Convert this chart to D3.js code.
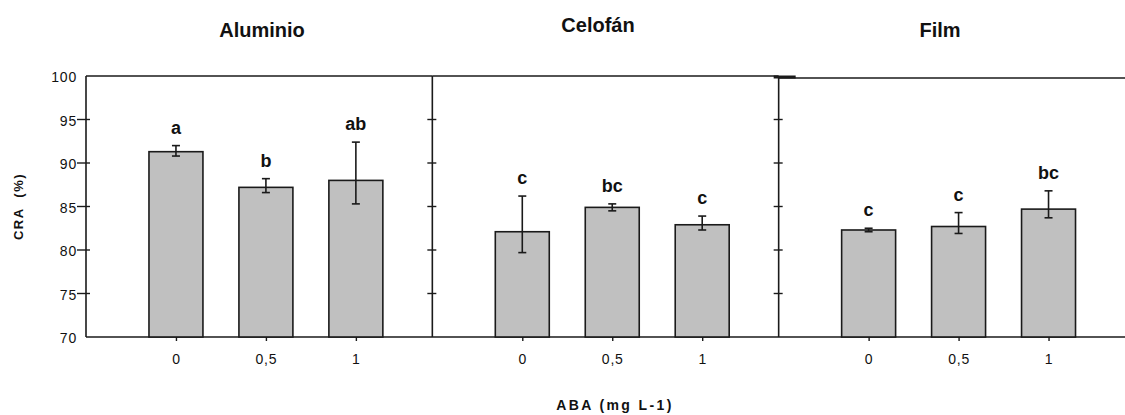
<!DOCTYPE html>
<html>
<head>
<meta charset="utf-8">
<script src="https://cdn.jsdelivr.net/npm/d3@7"></script>
<style>
  body { margin: 0; background: #fff; }
  text { font-family: "Liberation Sans", Arial, sans-serif; fill: #111; }
  .title { font-size: 20px; font-weight: bold; }
  .letter { font-size: 18px; font-weight: bold; }
  .axisText { font-size: 13px; font-weight: bold; }
</style>
</head>
<body>
<div id="chart"></div>
<script>
// Step 1: data
//= =================================
var materials = ["Aluminio", "Celofán", "Film"];
var doses = ["0", "0,5", "1"];
var yTicks = [70, 75, 80, 85, 90, 95, 100];

// mean CRA (%) per material, one value per dose
var meanAluminio = [91.3, 87.2, 88.0];
var meanCelofan = [82.1, 84.9, 82.9];
var meanFilm = [82.3, 82.7, 84.7];

// whisker ends (top / bottom) of the error bars
var highAluminio = [92.0, 88.2, 92.4];
var lowAluminio = [90.8, 86.6, 85.3];
var highCelofan = [86.2, 85.3, 83.9];
var lowCelofan = [79.7, 84.5, 82.3];
var highFilm = [82.5, 84.3, 86.8];
var lowFilm = [82.1, 81.9, 83.7];

// letters of the mean comparison test
var lettersAluminio = ["a", "b", "ab"];
var lettersCelofan = ["c", "bc", "c"];
var lettersFilm = ["c", "c", "bc"];

var means = [meanAluminio, meanCelofan, meanFilm];
var highs = [highAluminio, highCelofan, highFilm];
var lows = [lowAluminio, lowCelofan, lowFilm];
var letters = [lettersAluminio, lettersCelofan, lettersFilm];

// Step 2: set up the chart
//= =================================
var svgWidth = 1125;
var svgHeight = 415;

var margin = { top: 76, right: 0, bottom: 78, left: 86 };
var height = svgHeight - margin.top - margin.bottom;

var svg = d3.select("#chart")
  .append("svg")
  .attr("width", svgWidth)
  .attr("height", svgHeight);

// Step 3: scales
//= =================================
var yScale = d3.scaleLinear()
  .domain([70, 100])
  .range([margin.top + height, margin.top]);

var panelScale = d3.scaleBand()
  .domain(materials)
  .range([margin.left, svgWidth - margin.right]);

var pw = panelScale.bandwidth();

// dose positions inside one panel (0, 1, 2)
var xScale = d3.scaleLinear()
  .domain([-1, 2.85])
  .range([0, pw]);

var barW = xScale(0.6) - xScale(0);

var lineColor = "#1a1a1a";

// Step 4: frame and axes
//= =================================
var bottomY = yScale(70);
var topY = yScale(100);

// bottom line over the whole width
svg.append("line")
  .attr("x1", margin.left).attr("x2", svgWidth)
  .attr("y1", bottomY).attr("y2", bottomY)
  .attr("stroke", lineColor).attr("stroke-width", 1.6);

// left axis with ticks and labels
var leftAxis = d3.axisLeft(yScale)
  .tickValues(yTicks)
  .tickSize(0)
  .tickPadding(9);

var yAxisG = svg.append("g")
  .attr("transform", `translate(${margin.left}, 0)`)
  .call(leftAxis);
yAxisG.select(".domain").remove();
yAxisG.selectAll("text")
  .attr("dy", "0.4em")
  .style("font-family", "Liberation Sans, Arial, sans-serif")
  .style("font-size", "14px")
  .style("letter-spacing", "0.8px")
  .attr("fill", "#111");

materials.forEach(function(m, i) {
  var x0 = panelScale(m);
  var x1 = x0 + pw;
  var isLast = i === materials.length - 1;
  var tY = isLast ? topY + 2 : topY;

  // top of the panel
  svg.append("line")
    .attr("x1", x0).attr("x2", isLast ? svgWidth : x1)
    .attr("y1", tY).attr("y2", tY)
    .attr("stroke", lineColor).attr("stroke-width", 1.6);

  // left side of the panel
  svg.append("line")
    .attr("x1", x0).attr("x2", x0)
    .attr("y1", i === 0 ? topY : tY).attr("y2", bottomY)
    .attr("stroke", lineColor).attr("stroke-width", 1.6);

  // y ticks on the panel edge
  var tickIn = i === 0 ? -9 : -5;
  svg.append("g").selectAll("line")
    .data(yTicks.filter(d => d > 70 && d < 100))
    .enter()
    .append("line")
    .attr("x1", x0 + tickIn).attr("x2", x0 + 4)
    .attr("y1", d => yScale(d)).attr("y2", d => yScale(d))
    .attr("stroke", lineColor).attr("stroke-width", 1.4);

  // short thick piece where panel 3 starts
  if (isLast) {
    svg.append("line")
      .attr("x1", x0 - 5).attr("x2", x0 + 17)
      .attr("y1", topY + 1).attr("y2", topY + 1)
      .attr("stroke", lineColor).attr("stroke-width", 3);
  }

  // Step 5: bars, error bars and letters
  //= =================================
  var g = svg.append("g")
    .attr("transform", `translate(${x0}, 0)`);

  var rows = doses.map(function(d, j) {
    return { dose: d, idx: j, mean: means[i][j], hi: highs[i][j], lo: lows[i][j], letter: letters[i][j] };
  });

  g.selectAll("rect")
    .data(rows)
    .enter()
    .append("rect")
    .attr("x", d => xScale(d.idx) - barW / 2)
    .attr("y", d => yScale(d.mean))
    .attr("width", barW)
    .attr("height", d => bottomY - yScale(d.mean))
    .attr("fill", "#c0c0c0")
    .attr("stroke", lineColor)
    .attr("stroke-width", 1.6);

  var err = g.selectAll(".err")
    .data(rows)
    .enter()
    .append("g")
    .attr("class", "err");

  err.append("line")
    .attr("x1", d => xScale(d.idx)).attr("x2", d => xScale(d.idx))
    .attr("y1", d => yScale(d.hi)).attr("y2", d => yScale(d.lo))
    .attr("stroke", lineColor).attr("stroke-width", 1.6);

  err.selectAll(".cap")
    .data(d => [{ x: xScale(d.idx), v: d.hi }, { x: xScale(d.idx), v: d.lo }])
    .enter()
    .append("line")
    .attr("x1", d => d.x - 4).attr("x2", d => d.x + 4)
    .attr("y1", d => yScale(d.v)).attr("y2", d => yScale(d.v))
    .attr("stroke", lineColor).attr("stroke-width", 1.6);

  g.selectAll(".letter")
    .data(rows)
    .enter()
    .append("text")
    .attr("class", "letter")
    .attr("x", d => xScale(d.idx))
    .attr("y", d => yScale(d.hi) - 12)
    .attr("text-anchor", "middle")
    .text(d => d.letter);

  // x ticks and dose labels
  var bottomAxis = d3.axisBottom(d3.scaleOrdinal().domain(doses).range(doses.map((d, j) => xScale(j))))
    .tickSize(4)
    .tickPadding(13);

  var xAxisG = g.append("g")
    .attr("transform", `translate(0, ${bottomY})`)
    .call(bottomAxis);
  xAxisG.select(".domain").remove();
  xAxisG.selectAll("line").attr("stroke", lineColor).attr("stroke-width", 1.4);
  xAxisG.selectAll("text")
    .style("font-family", "Liberation Sans, Arial, sans-serif")
    .style("font-size", "14px")
    .style("letter-spacing", "0.8px")
    .attr("fill", "#111");
});

// Step 6: titles and axis labels
//= =================================
var titleX = [262, 598, 940];
var titleY = [37, 32, 37];
svg.selectAll(".title")
  .data(materials)
  .enter()
  .append("text")
  .attr("class", "title")
  .attr("x", (d, i) => titleX[i])
  .attr("y", (d, i) => titleY[i])
  .attr("text-anchor", "middle")
  .text(d => d);

svg.append("text")
  .attr("class", "axisText")
  .attr("transform", `translate(23, ${(topY + bottomY) / 2}) rotate(-90)`)
  .attr("text-anchor", "middle")
  .attr("xml:space", "preserve")
  .style("white-space", "pre")
  .style("letter-spacing", "1.5px")
  .text("CRA  (%)");

svg.append("text")
  .attr("class", "axisText")
  .attr("x", 615)
  .attr("y", 410)
  .attr("text-anchor", "middle")
  .style("font-size", "14px")
  .style("letter-spacing", "2.4px")
  .text("ABA (mg L-1)");
</script>
</body>
</html>
